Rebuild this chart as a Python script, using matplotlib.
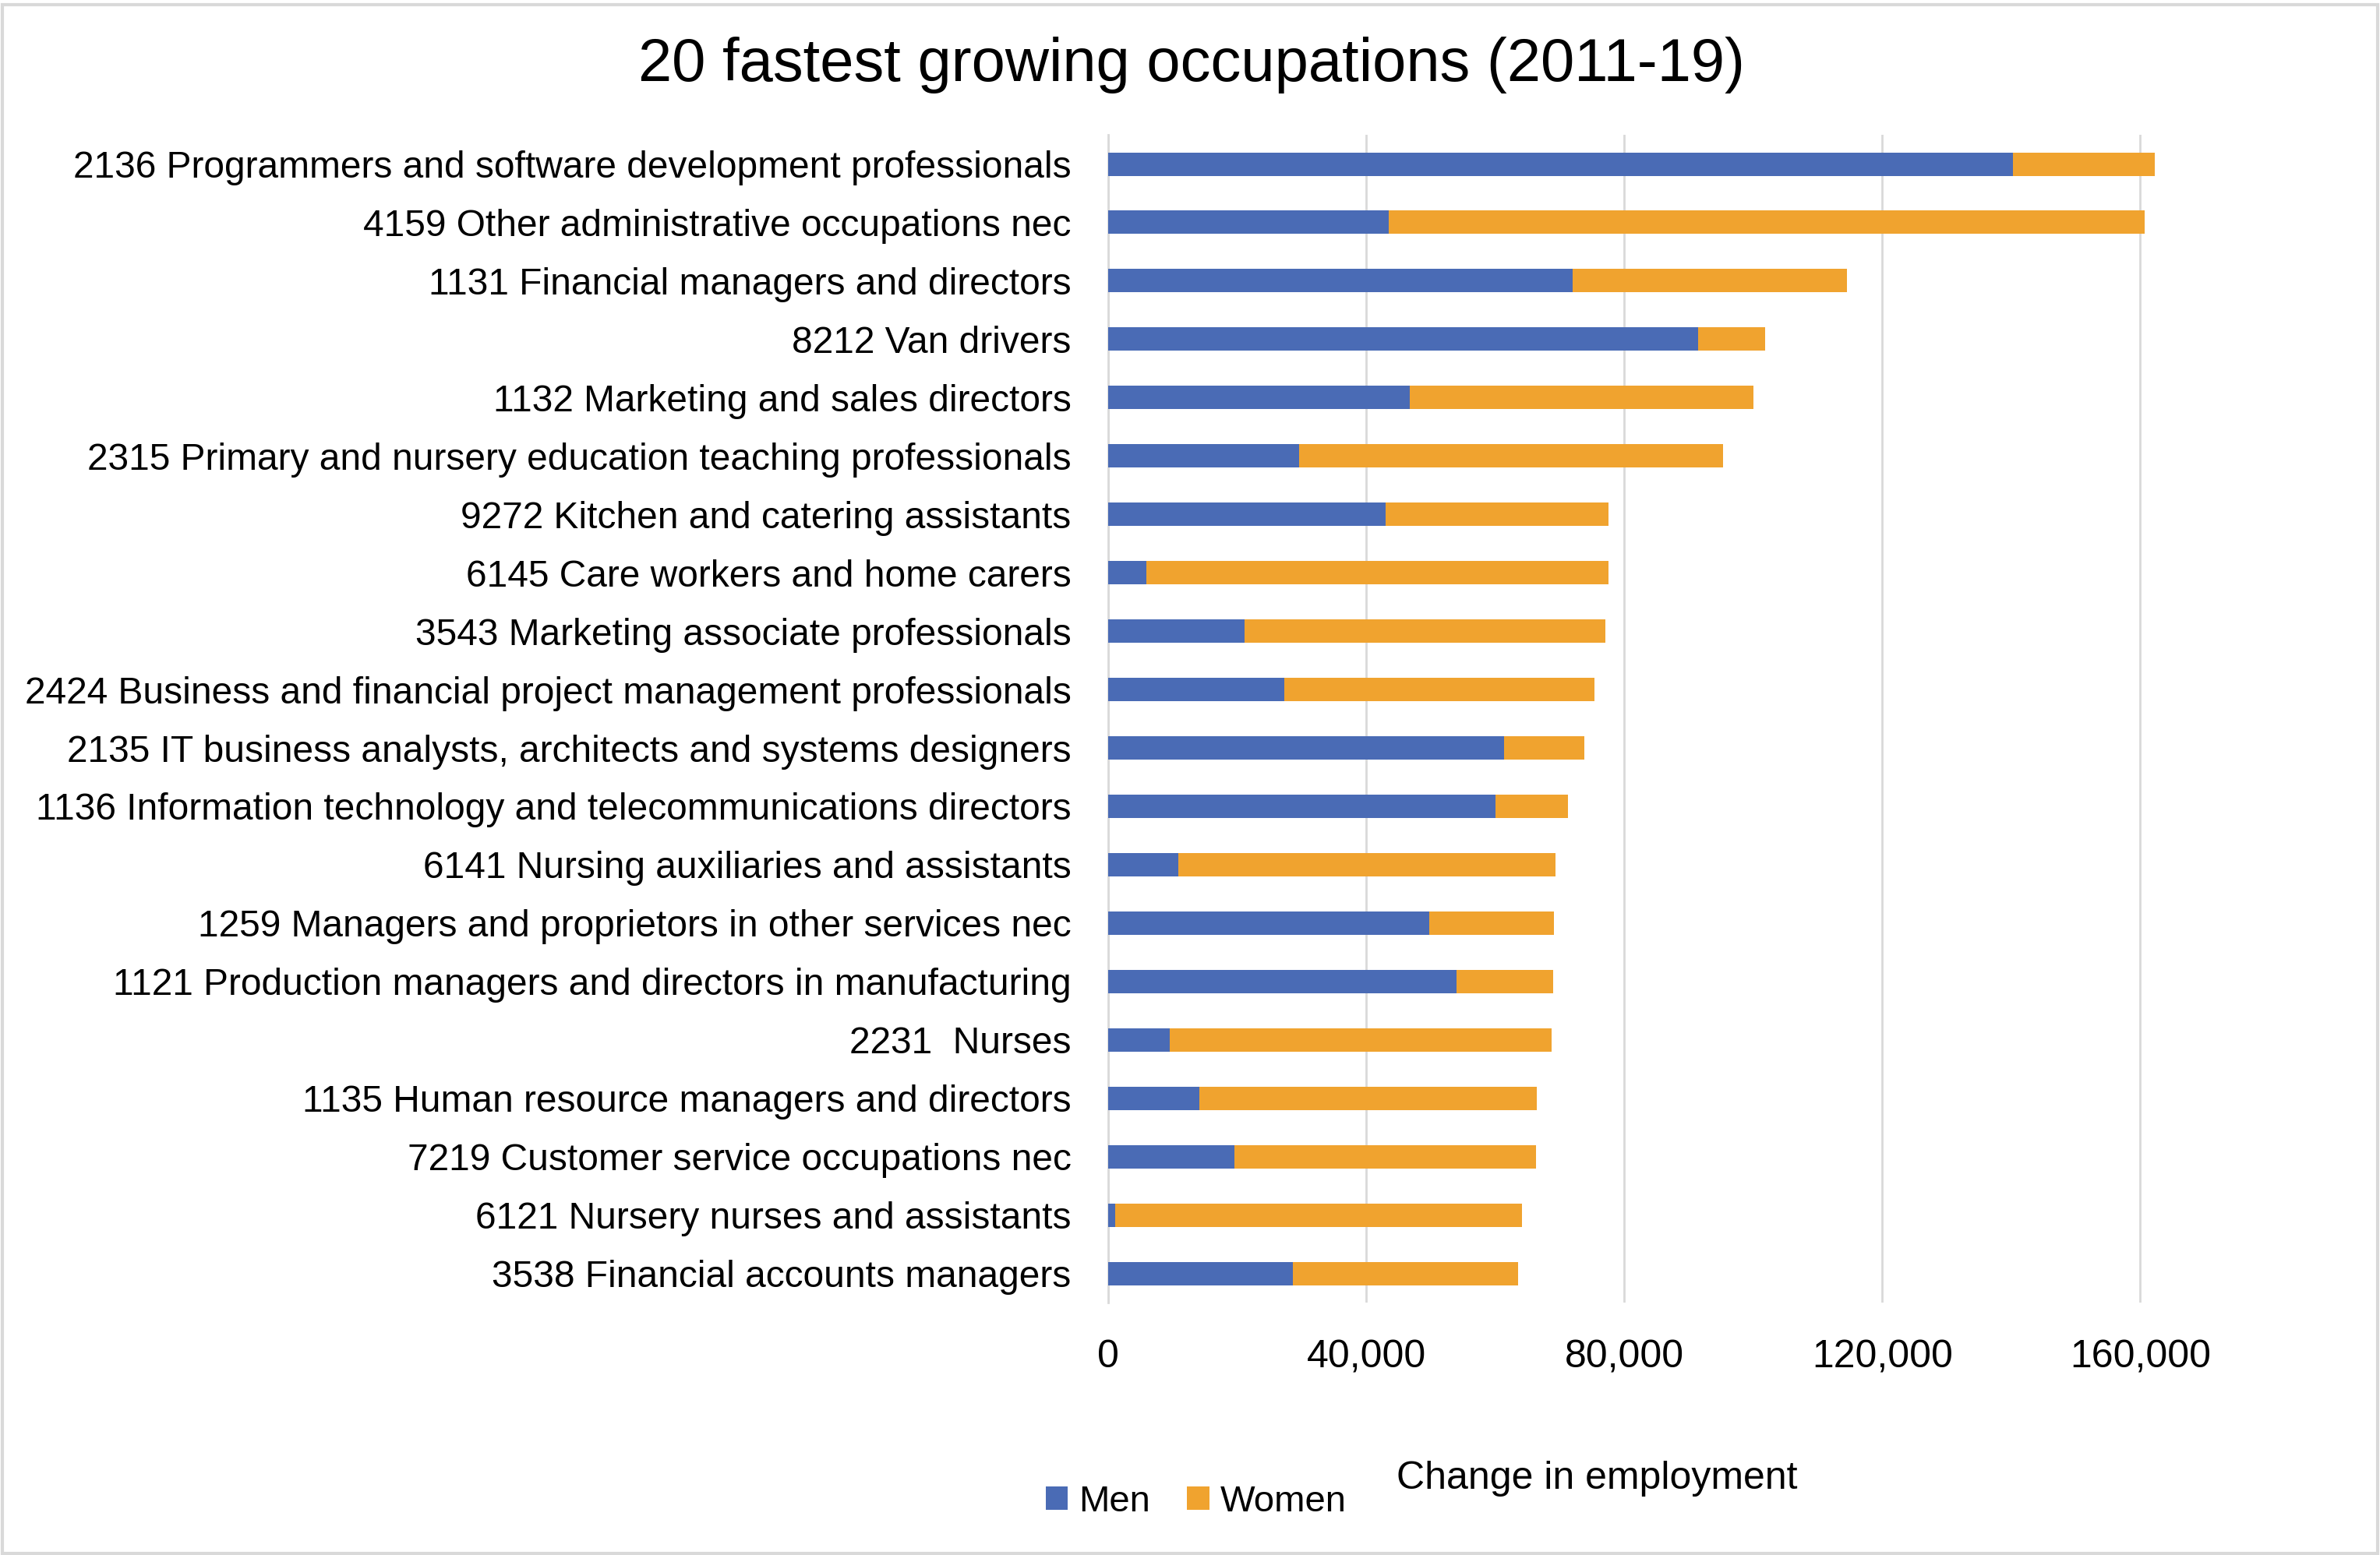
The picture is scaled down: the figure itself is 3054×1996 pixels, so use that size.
import matplotlib
matplotlib.use("Agg")
import matplotlib.pyplot as plt
from matplotlib.patches import Rectangle

plt.rcParams["font.family"] = ["Liberation Sans", "DejaVu Sans"]

occupations = [
    "2136 Programmers and software development professionals",
    "4159 Other administrative occupations nec",
    "1131 Financial managers and directors",
    "8212 Van drivers",
    "1132 Marketing and sales directors",
    "2315 Primary and nursery education teaching professionals",
    "9272 Kitchen and catering assistants",
    "6145 Care workers and home carers",
    "3543 Marketing associate professionals",
    "2424 Business and financial project management professionals",
    "2135 IT business analysts, architects and systems designers",
    "1136 Information technology and telecommunications directors",
    "6141 Nursing auxiliaries and assistants",
    "1259 Managers and proprietors in other services nec",
    "1121 Production managers and directors in manufacturing",
    "2231  Nurses",
    "1135 Human resource managers and directors",
    "7219 Customer service occupations nec",
    "6121 Nursery nurses and assistants",
    "3538 Financial accounts managers",
]

men = [140300, 43500, 72000, 91400, 46800, 29600, 43000, 5900, 21100, 27300,
       61400, 60000, 10900, 49800, 54000, 9600, 14100, 19600, 1100, 28600]
total = [162300, 160700, 114500, 101800, 100000, 95300, 77600, 77600, 77100, 75400,
         73800, 71300, 69400, 69100, 69000, 68800, 66500, 66300, 64100, 63500]
women = [t - m for t, m in zip(total, men)]

xticks = [0, 40000, 80000, 120000, 160000]

fig = plt.figure(figsize=(30.54, 19.96), dpi=100)
ax = fig.add_axes([0.4656, 0.1623, 0.4879, 0.751])

y = list(range(len(occupations)))
ax.barh(y, men, height=0.4, color="#4A6BB5", label="Men", zorder=3)
ax.barh(y, women, left=men, height=0.4, color="#F0A32F", label="Women", zorder=3)

ax.set_ylim(len(occupations) - 0.5, -0.5)
ax.set_xlim(0, 180000)
ax.set_yticks(y)
ax.set_yticklabels(occupations, fontsize=34.5)
ax.set_xticks(xticks)
ax.set_xticklabels([f"{v:,}" for v in xticks], fontsize=36)
ax.tick_params(axis="y", length=0, pad=34)
ax.tick_params(axis="x", length=0, pad=34)

ax.grid(axis="x", color="#D9D9D9", linewidth=2, zorder=0)
for s in ["top", "right", "bottom"]:
    ax.spines[s].set_visible(False)
ax.spines["left"].set_color("#D9D9D9")
ax.spines["left"].set_linewidth(2)

fig.text(0.5007, 0.958, "20 fastest growing occupations (2011-19)",
         ha="center", va="center", fontsize=56)
fig.text(0.671, 0.049, "Change in employment", ha="center", va="center", fontsize=36)

fig.legend(loc="center", bbox_to_anchor=(0.5026, 0.034), ncol=2, frameon=False,
           fontsize=34, handlelength=0.6, handleheight=0.6, handletextpad=0.3,
           columnspacing=1.0)

fig.patches.append(Rectangle((0.001, 0.001), 0.998, 0.996, transform=fig.transFigure,
                             fill=False, edgecolor="#D9D9D9", linewidth=3))

fig.savefig("out.png", dpi=100, facecolor="white")
